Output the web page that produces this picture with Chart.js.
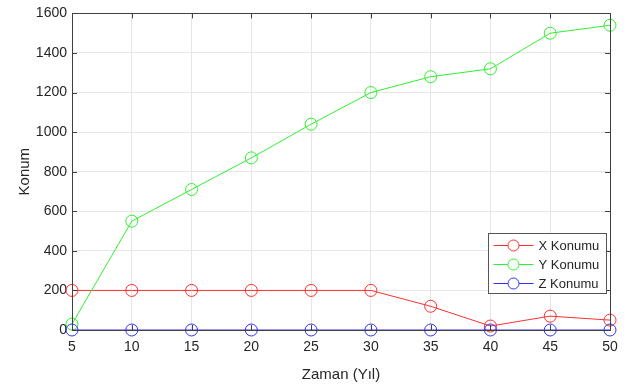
<!DOCTYPE html>
<html>
<head>
<meta charset="utf-8">
<script src="https://cdn.jsdelivr.net/npm/chart.js@4"></script>
<style>
  html, body { margin: 0; padding: 0; background: #fff; }
  #wrap { width: 629px; height: 388px; }
</style>
</head>
<body>
<div id="wrap"><canvas id="c" width="629" height="388"></canvas></div>
<script>
// years on the x axis
var years = [5, 10, 15, 20, 25, 30, 35, 40, 45, 50];
var xKonum = [200, 200, 200, 200, 200, 200, 120, 20, 70, 50];
var yKonum = [30, 550, 710, 870, 1040, 1200, 1280, 1320, 1500, 1540];
var zKonum = [0, 0, 0, 0, 0, 0, 0, 0, 0, 0];
var seriesNames = ["X Konumu", "Y Konumu", "Z Konumu"];
var seriesColors = ["#ff3030", "#30f030", "#3030ff"];

const axisColor = "#404040";
const textColor = "#262626";
const gridColor = "#e6e6e6";
const fontFam = "'Liberation Sans', Arial, sans-serif";

function toPoints(vals) {
    return vals.map(function (v, i) { return { x: years[i], y: v }; });
}

function makeSet(i, vals, order) {
    return {
        label: seriesNames[i],
        data: toPoints(vals),
        borderColor: seriesColors[i],
        backgroundColor: "transparent",
        borderWidth: 1,
        pointRadius: 6,
        pointBorderWidth: 1,
        pointBorderColor: seriesColors[i],
        pointBackgroundColor: "transparent",
        tension: 0,
        clip: false,
        order: order
    };
}

// box, inward ticks and the legend, MATLAB style
const boxPlugin = {
    id: "box",
    afterDatasetsDraw(chart) {
        const ctx = chart.ctx;
        const a = chart.chartArea;
        const xs = chart.scales.x, ys = chart.scales.y;
        ctx.save();
        ctx.strokeStyle = axisColor;
        ctx.lineWidth = 1;
        ctx.strokeRect(Math.round(a.left) + 0.5, Math.round(a.top) + 0.5,
            Math.round(a.right - a.left), Math.round(a.bottom - a.top));
        ctx.beginPath();
        xs.ticks.forEach(function (t) {
            const px = Math.round(xs.getPixelForValue(t.value)) + 0.5;
            ctx.moveTo(px, a.top); ctx.lineTo(px, a.top + 5);
            ctx.moveTo(px, a.bottom); ctx.lineTo(px, a.bottom - 5);
        });
        ys.ticks.forEach(function (t) {
            const py = Math.round(ys.getPixelForValue(t.value)) + 0.5;
            ctx.moveTo(a.left, py); ctx.lineTo(a.left + 5, py);
            ctx.moveTo(a.right, py); ctx.lineTo(a.right - 5, py);
        });
        ctx.stroke();

        // legend
        const lw = 118, lh = 60;
        const lx = Math.round(a.right) - 122 + 0.5;
        const ly = Math.round(a.top) + 220 + 0.5;
        ctx.fillStyle = "#fff";
        ctx.fillRect(lx, ly, lw, lh);
        ctx.strokeStyle = "#555";
        ctx.strokeRect(lx, ly, lw, lh);
        ctx.font = "13px " + fontFam;
        ctx.textBaseline = "middle";
        ctx.textAlign = "left";
        seriesNames.forEach(function (name, i) {
            const ry = ly + 12 + i * 19;
            ctx.strokeStyle = seriesColors[i];
            ctx.beginPath();
            ctx.moveTo(lx + 5, ry); ctx.lineTo(lx + 45, ry);
            ctx.stroke();
            ctx.fillStyle = "#fff";
            ctx.beginPath();
            ctx.arc(lx + 25, ry, 5.5, 0, Math.PI * 2);
            ctx.fill();
            ctx.stroke();
            ctx.fillStyle = textColor;
            ctx.fillText(name, lx + 50, ry + 1);
        });
        ctx.restore();
    }
};

new Chart(document.getElementById("c"), {
    type: "line",
    data: {
        datasets: [makeSet(0, xKonum, 3), makeSet(1, yKonum, 2), makeSet(2, zKonum, 1)]
    },
    options: {
        responsive: false,
        animation: false,
        layout: { padding: { left: 0, right: 19, top: 10, bottom: 0 } },
        plugins: {
            legend: { display: false },
            tooltip: { enabled: false }
        },
        scales: {
            x: {
                type: "linear",
                min: 5, max: 50,
                afterFit: function (s) { s.height = 58; },
                border: { display: false },
                grid: { color: gridColor, drawTicks: false },
                ticks: { stepSize: 5, color: textColor, padding: 9, font: { size: 14, family: fontFam },
                    callback: function (v) { return String(v); } },
                title: { display: true, text: "Zaman (Yıl)", color: textColor, padding: { top: 4 }, font: { size: 15, family: fontFam } }
            },
            y: {
                min: 0, max: 1600,
                afterFit: function (s) { s.width = 72; },
                border: { display: false },
                grid: { color: gridColor, drawTicks: false },
                ticks: { stepSize: 200, color: textColor, padding: 5, font: { size: 14, family: fontFam },
                    callback: function (v) { return String(v); } },
                title: { display: true, text: "Konum", color: textColor, padding: { top: 16, bottom: 0 }, font: { size: 15, family: fontFam } }
            }
        }
    },
    plugins: [boxPlugin]
});
</script>
</body>
</html>
